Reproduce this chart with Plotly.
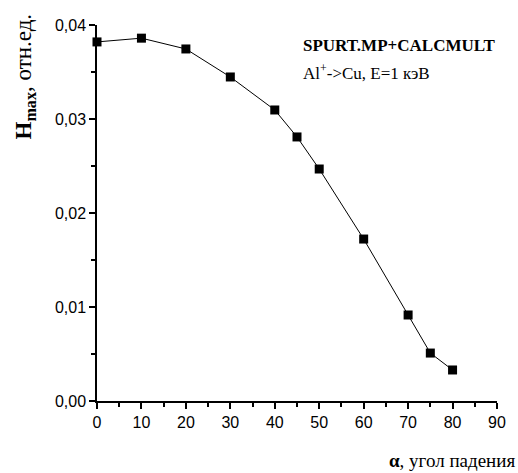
import plotly.graph_objects as go

angles = [0, 10, 20, 30, 40, 45, 50, 60, 70, 75, 80]
hmax = [0.0382, 0.0386, 0.03745, 0.03447, 0.03096, 0.02809, 0.02468, 0.01723, 0.00915, 0.0051, 0.0033]

x_ticks = [0, 10, 20, 30, 40, 50, 60, 70, 80, 90]
y_ticks = [0.00, 0.01, 0.02, 0.03, 0.04]

fig = go.Figure()
fig.add_trace(go.Scatter(
    x=angles, y=hmax, mode="lines+markers",
    line=dict(color="black", width=1),
    marker=dict(symbol="square", size=9, color="black"),
    showlegend=False, cliponaxis=False,
))

axis_common = dict(
    showline=True, linecolor="black", linewidth=1.5, mirror=False,
    showgrid=False, zeroline=False,
    ticks="outside", ticklen=6, tickwidth=1.5, tickcolor="black",
    tickfont=dict(family="Liberation Sans, Arial", size=16, color="black"),
    minor=dict(ticks="outside", ticklen=4, tickwidth=1.5, tickcolor="black"),
)

fig.update_xaxes(range=[0, 90], tickvals=x_ticks, minor_dtick=5, **axis_common)
fig.update_yaxes(range=[0, 0.04], tickvals=y_ticks, tickformat=".2f", minor_dtick=0.005, **axis_common)

L, R, T, B = 97, 13, 25, 72
pw, ph = 518 - L - R, 473 - T - B


def px(x):
    return (x - L) / pw


def py(y):
    return 1 - (y - T) / ph


fig.update_layout(
    width=518, height=473,
    margin=dict(l=L, r=R, t=T, b=B),
    plot_bgcolor="white", paper_bgcolor="white",
    separators=", ",
    annotations=[
        dict(text="<b>SPURT.MP+CALCMULT</b>", x=px(305), y=py(45), xref="paper", yref="paper",
             showarrow=False, font=dict(family="Liberation Serif", size=17, color="black"),
             xanchor="left", yanchor="middle"),
        dict(text="Al<sup>+</sup>->Cu, E=1 кэВ", x=px(305), y=py(72), xref="paper", yref="paper",
             showarrow=False, font=dict(family="Liberation Serif", size=17, color="black"),
             xanchor="left", yanchor="middle"),
        dict(text="<b>α</b>, угол падения", x=px(393), y=py(460), xref="paper", yref="paper",
             showarrow=False, font=dict(family="Liberation Serif", size=19, color="black"),
             xanchor="left", yanchor="middle"),
        dict(text="<b>H<sub>max</sub></b>, отн.ед.", x=px(24), y=py(76), xref="paper", yref="paper",
             showarrow=False, font=dict(family="Liberation Serif", size=23, color="black"),
             textangle=-90, xanchor="center", yanchor="middle"),
    ],
)

fig.write_html("out.html", config={"displayModeBar": False},
               post_script="document.body.style.margin='0';document.body.style.overflow='hidden';")
